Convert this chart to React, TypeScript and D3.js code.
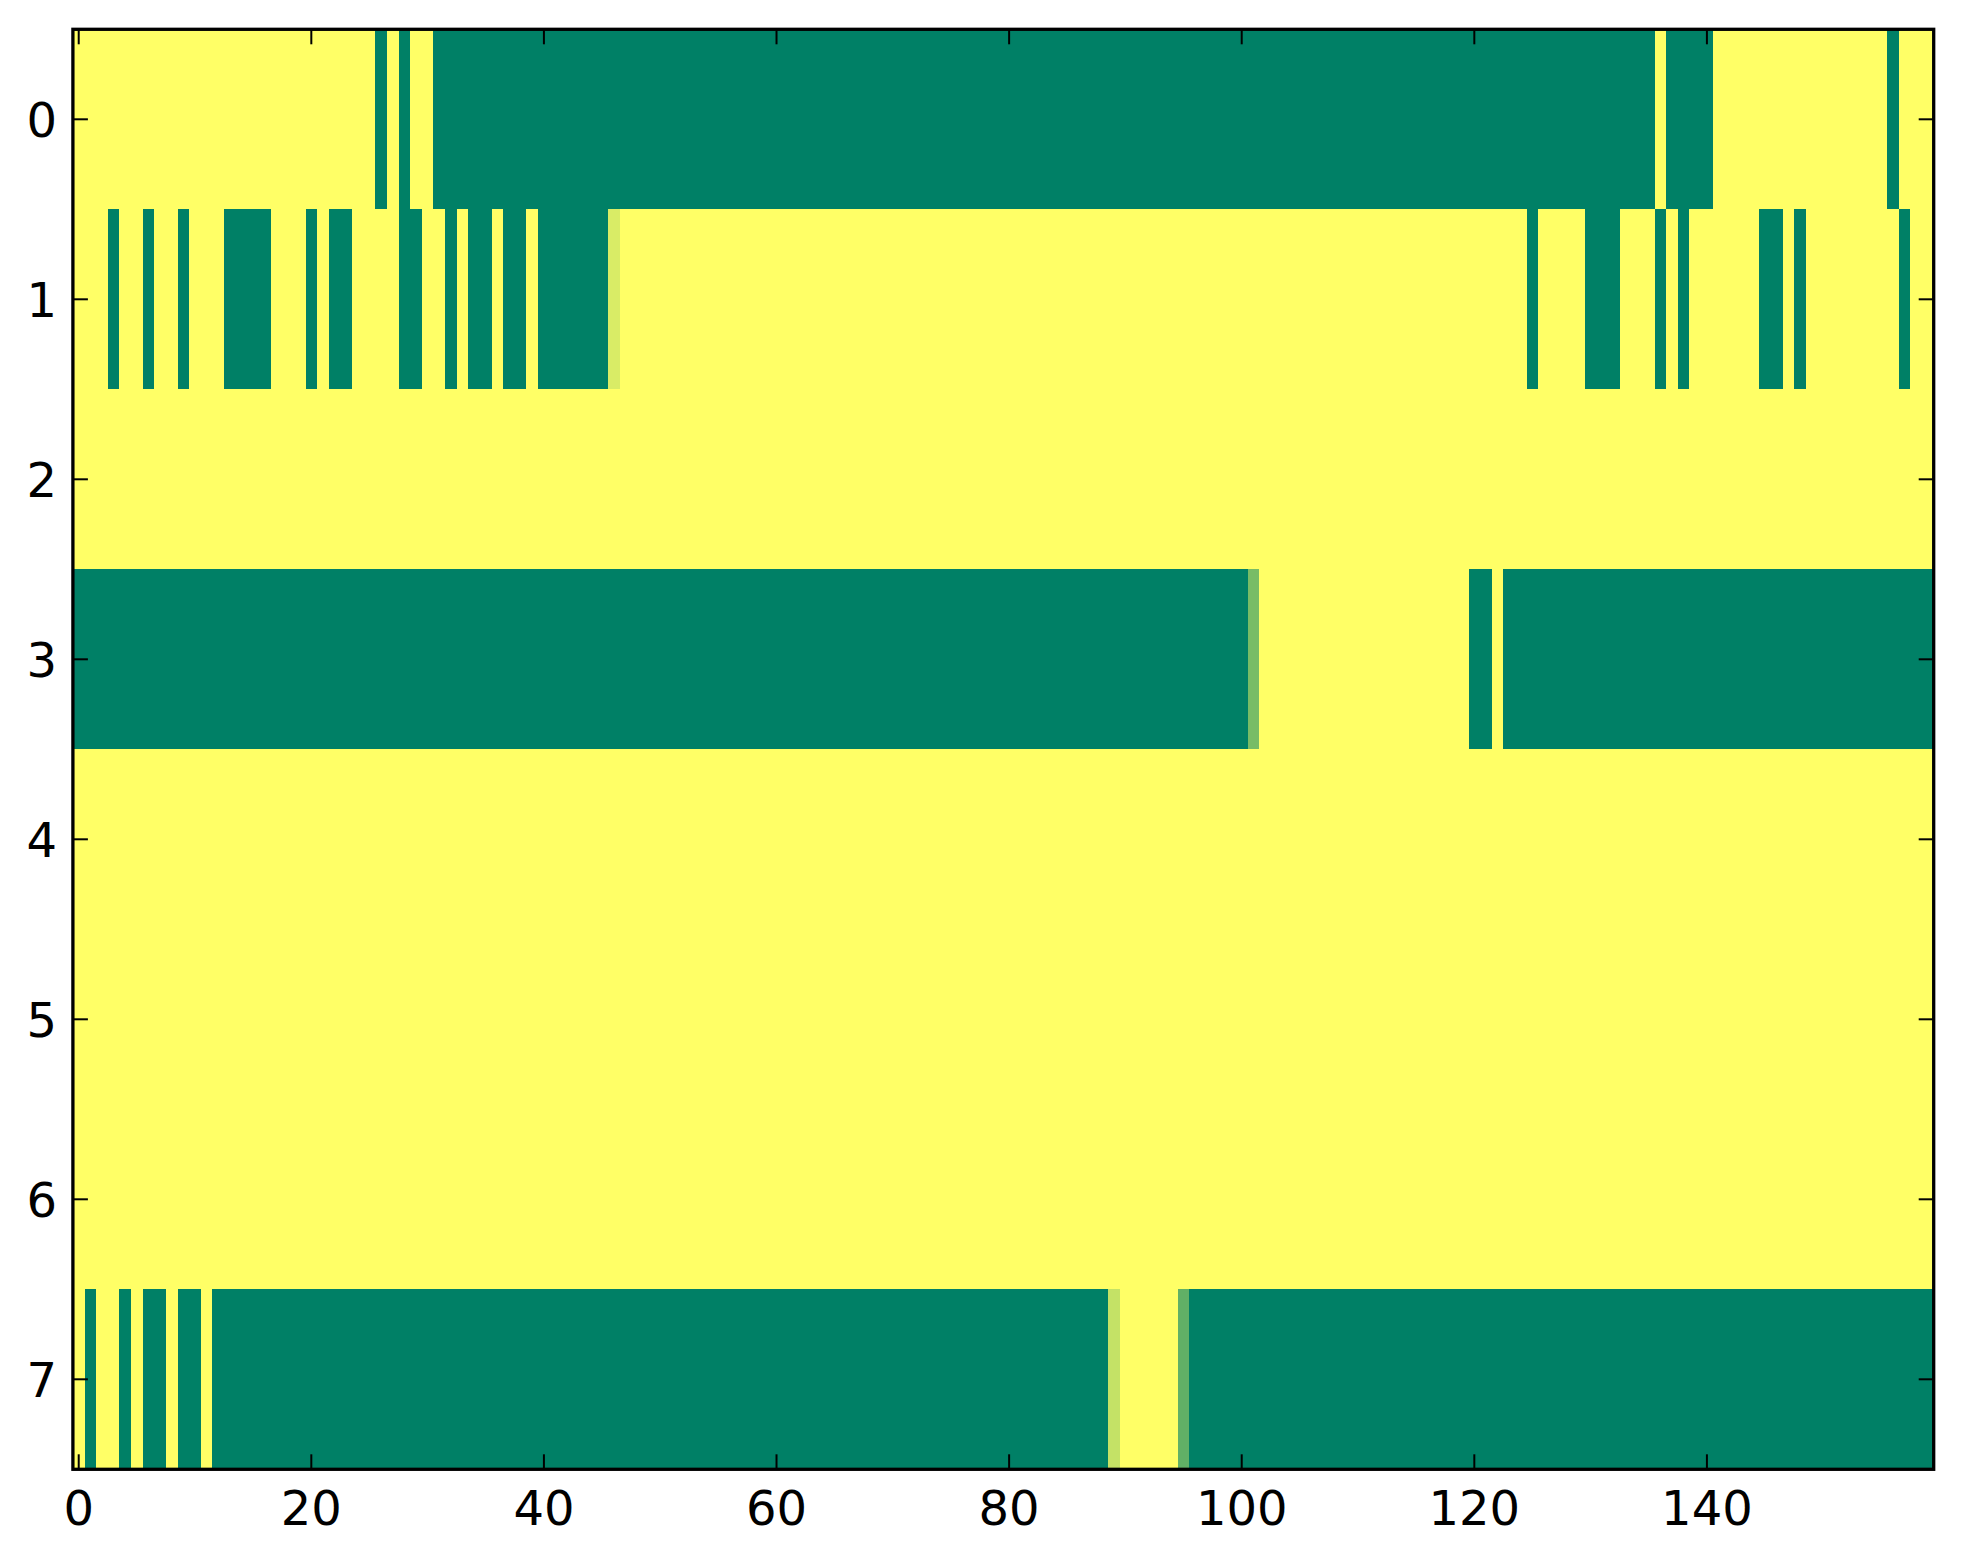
import * as d3 from "d3";

// each row: runs of [value, count], 0 = dark green, 1 = yellow (summer colormap)
const row0 = [[1, 26], [0, 1], [1, 1], [0, 1], [1, 2], [0, 105], [1, 1], [0, 4], [1, 15], [0, 1], [1, 3]];
const row1 = [
    [1, 3], [0, 1], [1, 2], [0, 1], [1, 2], [0, 1], [1, 3], [0, 4], [1, 3], [0, 1], [1, 1], [0, 2],
    [1, 4], [0, 2], [1, 2], [0, 1], [1, 1], [0, 2], [1, 1], [0, 2], [1, 1], [0, 6], [0.85, 1],
    [1, 78], [0, 1], [1, 4], [0, 3], [1, 3], [0, 1], [1, 1], [0, 1], [1, 6], [0, 2], [1, 1], [0, 1],
    [1, 8], [0, 1], [1, 2],
];
const row2 = [[1, 160]];
const row3 = [[0, 101], [0.47, 1], [1, 18], [0, 2], [1, 1], [0, 37]];
const row4 = [[1, 160]];
const row5 = [[1, 160]];
const row6 = [[1, 160]];
const row7 = [
    [1, 1], [0, 1], [1, 2], [0, 1], [1, 1], [0, 2], [1, 1], [0, 2], [1, 1], [0, 77], [0.77, 1],
    [1, 5], [0.38, 1], [0, 64],
];
const rows = [row0, row1, row2, row3, row4, row5, row6, row7];

const xTicks = [0, 20, 40, 60, 80, 100, 120, 140];
const yTicks = [0, 1, 2, 3, 4, 5, 6, 7];

const nCols = 160;
const width = 1963;
const height = 1564;
const left = 72.9;
const right = 1933.7;
const top = 29.3;
const bottom = 1469.3;

export default function App() {
    const x = d3.scaleLinear().domain([-0.5, nCols - 0.5]).range([left, right]);
    const y = d3.scaleLinear().domain([-0.5, rows.length - 0.5]).range([top, bottom]);
    const color = d3.scaleLinear<string>().domain([0, 1]).range(["#008066", "#ffff66"]);

    // expand the runs into cells
    const cells: { r: number; c: number; v: number }[] = [];
    rows.forEach((runs, r) => {
        let c = 0;
        runs.forEach(([v, n]) => {
            for (let k = 0; k < n; k++) cells.push({ r, c: c + k, v });
            c += n;
        });
    });

    const tickLen = 15;
    const font = "'DejaVu Sans', sans-serif";

    return (
        <svg
            width={width}
            height={height}
            style={{ position: "absolute", left: 0, top: 0, background: "#fff" }}
        >
            <g shapeRendering="crispEdges">
                {cells.map((d) => (
                    <rect
                        key={d.r + "-" + d.c}
                        x={x(d.c - 0.5)}
                        y={y(d.r - 0.5)}
                        width={x(d.c + 0.5) - x(d.c - 0.5) + 0.4}
                        height={y(d.r + 0.5) - y(d.r - 0.5)}
                        fill={color(d.v)}
                    />
                ))}
            </g>

            {/* ticks, inward on all sides */}
            <g stroke="#000" strokeWidth={2}>
                {xTicks.map((t) => (
                    <g key={"x" + t}>
                        <line x1={x(t)} x2={x(t)} y1={bottom} y2={bottom - tickLen} />
                        <line x1={x(t)} x2={x(t)} y1={top} y2={top + tickLen} />
                    </g>
                ))}
                {yTicks.map((t) => (
                    <g key={"y" + t}>
                        <line x1={left} x2={left + tickLen} y1={y(t)} y2={y(t)} />
                        <line x1={right} x2={right - tickLen} y1={y(t)} y2={y(t)} />
                    </g>
                ))}
            </g>

            <rect
                x={left}
                y={top}
                width={right - left}
                height={bottom - top}
                fill="none"
                stroke="#000"
                strokeWidth={3.3}
            />

            <g fontFamily={font} fontSize={48} fill="#000">
                {xTicks.map((t) => (
                    <text key={"xl" + t} x={x(t)} y={1525} textAnchor="middle">
                        {t}
                    </text>
                ))}
                {yTicks.map((t) => (
                    <text key={"yl" + t} x={57} y={y(t)} dy="0.36em" textAnchor="end">
                        {t}
                    </text>
                ))}
            </g>
        </svg>
    );
}
